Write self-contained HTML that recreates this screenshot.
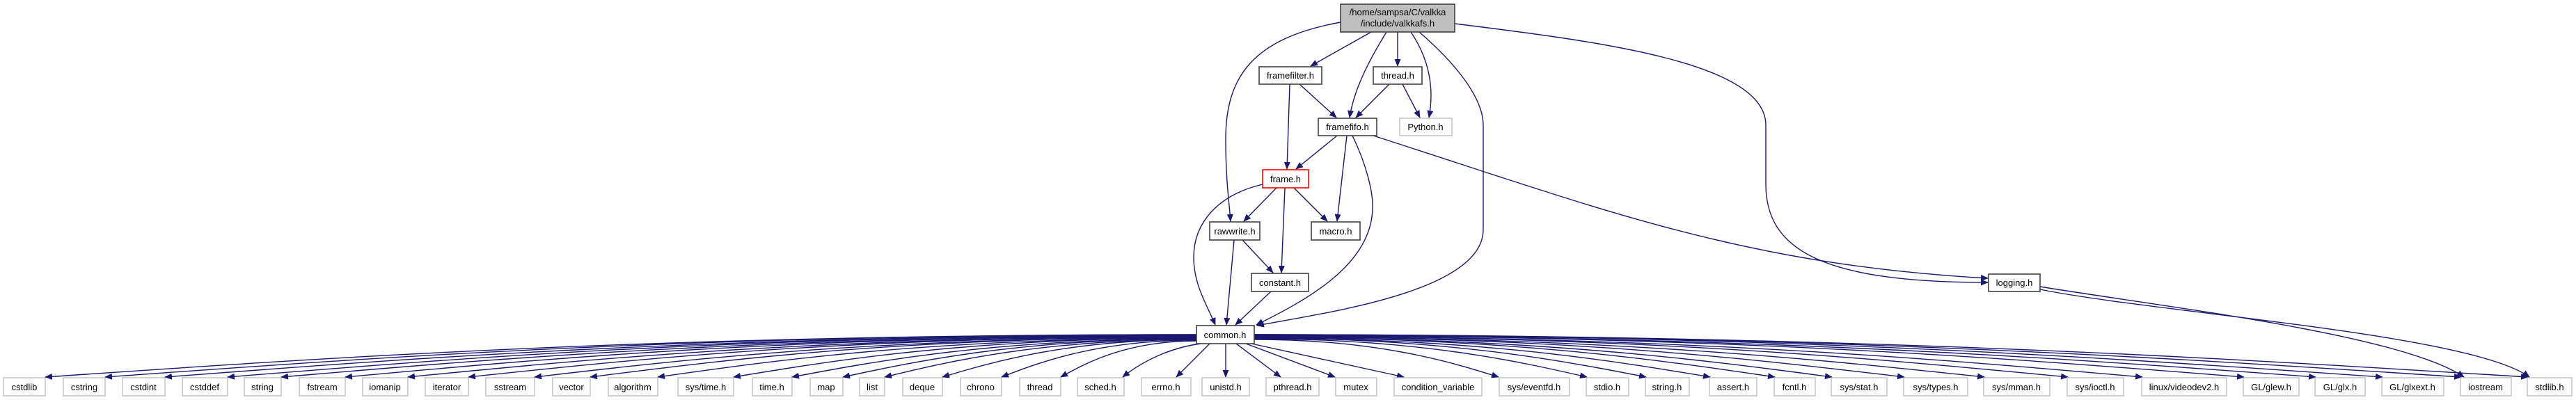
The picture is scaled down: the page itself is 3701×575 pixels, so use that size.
<!DOCTYPE html>
<html><head><meta charset="utf-8"><style>
html,body{margin:0;padding:0;background:#fff;}
svg{display:block;}
text{font-family:"Liberation Sans",Arial,sans-serif;font-size:13px;fill:#000;}
.e{fill:none;stroke:#191970;stroke-width:1.4;marker-end:url(#a);}
.n{fill:#fff;stroke:#404040;stroke-width:1.6;}
.u{fill:#fff;stroke:#bfbfbf;stroke-width:1.4;}
</style></head><body>
<svg width="3701" height="575" viewBox="0 0 3701 575" xmlns="http://www.w3.org/2000/svg">
<defs><marker id="a" markerUnits="userSpaceOnUse" markerWidth="11" markerHeight="9" refX="10" refY="4.5" orient="auto"><path d="M0,0 L11,4.5 L0,9 z" fill="#191970"/></marker></defs>

<!-- upper edges -->
<path class="e" d="M1970,46 L1883,95"/>
<path class="e" d="M1992,46 C1965,90 1945,130 1939,169"/>
<path class="e" d="M2008,46 L2008,95"/>
<path class="e" d="M2027,46 C2050,80 2062,120 2053,169"/>
<path class="e" d="M1926,32 C1800,55 1761,110 1761,200 C1761,260 1766,290 1768,318"/>
<path class="e" d="M2039,46 C2090,90 2131,140 2131,180 L2131,330 C2131,420 1900,450 1806,468"/>
<path class="e" d="M2090,34 C2300,60 2537,90 2537,180 L2537,265 C2537,360 2620,406 2856,406"/>
<path class="e" d="M1853,121 L1849,243"/>
<path class="e" d="M1867,121 L1920,169"/>
<path class="e" d="M1996,121 L1948,169"/>
<path class="e" d="M2015,121 L2040,169"/>
<path class="e" d="M1921,195 L1862,243"/>
<path class="e" d="M1935,195 L1921,318"/>
<path class="e" d="M1943,195 C1965,240 1973,280 1972,300 C1970,380 1880,430 1805,467"/>
<path class="e" d="M1973,195 C2300,300 2500,380 2856,400"/>
<path class="e" d="M1834,270 L1787,318"/>
<path class="e" d="M1846,270 L1841,392"/>
<path class="e" d="M1859,270 L1907,318"/>
<path class="e" d="M1814,265 C1750,280 1715,320 1715,370 C1715,410 1735,440 1746,467"/>
<path class="e" d="M1773,345 L1762,467"/>
<path class="e" d="M1785,345 L1829,392"/>
<path class="e" d="M1826,419 L1775,467"/>
<path class="e" d="M2931,412 C3100,440 3450,480 3540,542"/>
<path class="e" d="M2931,416 C3100,450 3550,480 3634,542"/>

<!-- common.h fan-out left -->
<path class="e" d="M1719,481 C892,481 396,520 65,542"/>
<path class="e" d="M1719,481 C935,481 465,520 151,542"/>
<path class="e" d="M1719,482 C978,482 533,520 237,542"/>
<path class="e" d="M1719,482 C1023,482 605,520 327,542"/>
<path class="e" d="M1719,483 C1061,483 667,520 404,542"/>
<path class="e" d="M1719,483 C1107,483 741,520 496,542"/>
<path class="e" d="M1719,484 C1152,484 813,520 586,542"/>
<path class="e" d="M1719,484 C1196,484 882,520 673,542"/>
<path class="e" d="M1719,485 C1243,485 958,520 768,542"/>
<path class="e" d="M1719,485 C1283,485 1022,520 848,542"/>
<path class="e" d="M1719,486 C1332,486 1100,520 945,542"/>
<path class="e" d="M1719,486 C1386,486 1187,520 1054,542"/>
<path class="e" d="M1719,487 C1428,487 1254,520 1138,542"/>
<path class="e" d="M1719,487 C1465,487 1313,520 1211,542"/>
<path class="e" d="M1719,488 C1495,488 1361,520 1271,542"/>
<path class="e" d="M1719,488 C1536,488 1427,520 1354,542"/>
<path class="e" d="M1719,489 C1579,489 1495,520 1439,542"/>
<path class="e" d="M1719,490 C1621,490 1563,520 1524,542"/>
<path class="e" d="M1725,494 C1680,500 1640,520 1613,542"/>
<path class="e" d="M1738,494 L1690,542"/>
<path class="e" d="M1761,494 L1761,542"/>
<path class="e" d="M1776,494 L1840,542"/>
<path class="e" d="M1790,494 L1918,542"/>
<path class="e" d="M1798,494 L2017,542"/>
<!-- right -->
<path class="e" d="M1802,488 C1978,488 2084,520 2153,542"/>
<path class="e" d="M1802,487 C2040,487 2184,520 2280,542"/>
<path class="e" d="M1802,486 C2083,486 2252,520 2365,542"/>
<path class="e" d="M1802,486 C2129,486 2325,520 2457,542"/>
<path class="e" d="M1802,485 C2175,485 2400,520 2550,542"/>
<path class="e" d="M1802,485 C2216,485 2465,520 2632,542"/>
<path class="e" d="M1802,484 C2268,484 2548,520 2736,542"/>
<path class="e" d="M1802,484 C2326,484 2640,520 2851,542"/>
<path class="e" d="M1802,483 C2386,483 2736,520 2971,542"/>
<path class="e" d="M1802,483 C2439,483 2822,520 3078,542"/>
<path class="e" d="M1802,482 C2512,482 2939,520 3224,542"/>
<path class="e" d="M1802,482 C2564,482 3021,520 3327,542"/>
<path class="e" d="M1802,481 C2612,481 3098,520 3423,542"/>
<path class="e" d="M1802,481 C2668,481 3188,520 3536,542"/>
<path class="e" d="M1802,481 C2716,481 3265,520 3632,542"/>

<!-- nodes -->
<rect x="1926" y="6" width="164" height="40" fill="#bfbfbf" stroke="#404040" stroke-width="1.6"/>
<text x="2008" y="22" text-anchor="middle">/home/sampsa/C/valkka</text>
<text x="2008" y="38" text-anchor="middle">/include/valkkafs.h</text>

<rect class="n" x="1809" y="96" width="90" height="25"/><text x="1854" y="113" text-anchor="middle">framefilter.h</text>
<rect class="n" x="1973" y="96" width="70" height="25"/><text x="2008" y="113" text-anchor="middle">thread.h</text>
<rect class="n" x="1894" y="170" width="84" height="25"/><text x="1936" y="187" text-anchor="middle">framefifo.h</text>
<rect class="u" x="2011" y="170" width="75" height="25"/><text x="2048" y="187" text-anchor="middle">Python.h</text>
<rect x="1814" y="244" width="66" height="26" fill="#fff" stroke="#ff0000" stroke-width="1.6"/><text x="1847" y="262" text-anchor="middle">frame.h</text>
<rect class="n" x="1738" y="319" width="72" height="26"/><text x="1774" y="337" text-anchor="middle">rawwrite.h</text>
<rect class="n" x="1884" y="319" width="70" height="26"/><text x="1919" y="337" text-anchor="middle">macro.h</text>
<rect class="n" x="1798" y="393" width="82" height="26"/><text x="1839" y="411" text-anchor="middle">constant.h</text>
<rect class="n" x="2857" y="394" width="74" height="25"/><text x="2894" y="411" text-anchor="middle">logging.h</text>
<rect class="n" x="1719" y="468" width="83" height="26"/><text x="1760" y="486" text-anchor="middle">common.h</text>

<g>
<rect class="u" x="5" y="543" width="60" height="26"/><text x="35" y="561" text-anchor="middle">cstdlib</text>
<rect class="u" x="91" y="543" width="60" height="26"/><text x="121" y="561" text-anchor="middle">cstring</text>
<rect class="u" x="176" y="543" width="61" height="26"/><text x="206" y="561" text-anchor="middle">cstdint</text>
<rect class="u" x="262" y="543" width="65" height="26"/><text x="294" y="561" text-anchor="middle">cstddef</text>
<rect class="u" x="351" y="543" width="53" height="26"/><text x="377" y="561" text-anchor="middle">string</text>
<rect class="u" x="430" y="543" width="66" height="26"/><text x="463" y="561" text-anchor="middle">fstream</text>
<rect class="u" x="521" y="543" width="65" height="26"/><text x="553" y="561" text-anchor="middle">iomanip</text>
<rect class="u" x="611" y="543" width="62" height="26"/><text x="642" y="561" text-anchor="middle">iterator</text>
<rect class="u" x="698" y="543" width="70" height="26"/><text x="733" y="561" text-anchor="middle">sstream</text>
<rect class="u" x="794" y="543" width="54" height="26"/><text x="821" y="561" text-anchor="middle">vector</text>
<rect class="u" x="874" y="543" width="71" height="26"/><text x="909" y="561" text-anchor="middle">algorithm</text>
<rect class="u" x="974" y="543" width="80" height="26"/><text x="1014" y="561" text-anchor="middle">sys/time.h</text>
<rect class="u" x="1081" y="543" width="57" height="26"/><text x="1109" y="561" text-anchor="middle">time.h</text>
<rect class="u" x="1164" y="543" width="47" height="26"/><text x="1187" y="561" text-anchor="middle">map</text>
<rect class="u" x="1235" y="543" width="36" height="26"/><text x="1253" y="561" text-anchor="middle">list</text>
<rect class="u" x="1297" y="543" width="57" height="26"/><text x="1325" y="561" text-anchor="middle">deque</text>
<rect class="u" x="1380" y="543" width="59" height="26"/><text x="1409" y="561" text-anchor="middle">chrono</text>
<rect class="u" x="1465" y="543" width="59" height="26"/><text x="1494" y="561" text-anchor="middle">thread</text>
<rect class="u" x="1548" y="543" width="67" height="26"/><text x="1581" y="561" text-anchor="middle">sched.h</text>
<rect class="u" x="1640" y="543" width="71" height="26"/><text x="1675" y="561" text-anchor="middle">errno.h</text>
<rect class="u" x="1727" y="543" width="68" height="26"/><text x="1761" y="561" text-anchor="middle">unistd.h</text>
<rect class="u" x="1819" y="543" width="76" height="26"/><text x="1857" y="561" text-anchor="middle">pthread.h</text>
<rect class="u" x="1919" y="543" width="59" height="26"/><text x="1948" y="561" text-anchor="middle">mutex</text>
<rect class="u" x="2003" y="543" width="126" height="26"/><text x="2066" y="561" text-anchor="middle">condition_variable</text>
<rect class="u" x="2154" y="543" width="101" height="26"/><text x="2204" y="561" text-anchor="middle">sys/eventfd.h</text>
<rect class="u" x="2279" y="543" width="61" height="26"/><text x="2309" y="561" text-anchor="middle">stdio.h</text>
<rect class="u" x="2364" y="543" width="63" height="26"/><text x="2395" y="561" text-anchor="middle">string.h</text>
<rect class="u" x="2456" y="543" width="68" height="26"/><text x="2490" y="561" text-anchor="middle">assert.h</text>
<rect class="u" x="2549" y="543" width="59" height="26"/><text x="2578" y="561" text-anchor="middle">fcntl.h</text>
<rect class="u" x="2631" y="543" width="80" height="26"/><text x="2671" y="561" text-anchor="middle">sys/stat.h</text>
<rect class="u" x="2735" y="543" width="92" height="26"/><text x="2781" y="561" text-anchor="middle">sys/types.h</text>
<rect class="u" x="2850" y="543" width="95" height="26"/><text x="2897" y="561" text-anchor="middle">sys/mman.h</text>
<rect class="u" x="2970" y="543" width="81" height="26"/><text x="3010" y="561" text-anchor="middle">sys/ioctl.h</text>
<rect class="u" x="3077" y="543" width="122" height="26"/><text x="3138" y="561" text-anchor="middle">linux/videodev2.h</text>
<rect class="u" x="3223" y="543" width="80" height="26"/><text x="3263" y="561" text-anchor="middle">GL/glew.h</text>
<rect class="u" x="3326" y="543" width="72" height="26"/><text x="3362" y="561" text-anchor="middle">GL/glx.h</text>
<rect class="u" x="3422" y="543" width="89" height="26"/><text x="3466" y="561" text-anchor="middle">GL/glxext.h</text>
<rect class="u" x="3535" y="543" width="73" height="26"/><text x="3571" y="561" text-anchor="middle">iostream</text>
<rect class="u" x="3631" y="543" width="64" height="26"/><text x="3663" y="561" text-anchor="middle">stdlib.h</text>
</g>
</svg>
</body></html>
